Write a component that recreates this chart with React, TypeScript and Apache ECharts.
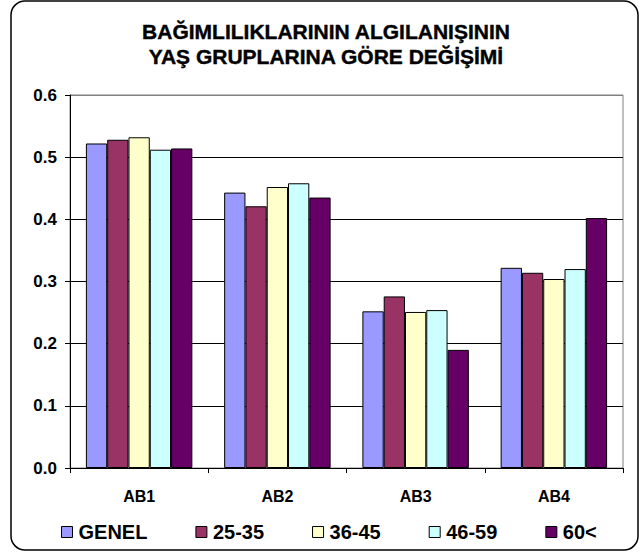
import React, { useEffect, useRef } from "react";
import * as echarts from "echarts";

const categories = ["AB1", "AB2", "AB3", "AB4"];
const seriesNames = ["GENEL", "25-35", "36-45", "46-59", "60<"];
const genel = [0.522, 0.443, 0.252, 0.322];
const g2535 = [0.528, 0.421, 0.276, 0.314];
const g3645 = [0.532, 0.452, 0.251, 0.304];
const g4659 = [0.512, 0.458, 0.254, 0.320];
const g60 = [0.514, 0.435, 0.190, 0.402];
const seriesValues = [genel, g2535, g3645, g4659, g60];
const colors = ["#9999FF", "#993366", "#FFFFCC", "#CCFFFF", "#660066"];
const titleLines = ["BAĞIMLILIKLARININ ALGILANIŞININ", "YAŞ GRUPLARINA GÖRE DEĞİŞİMİ"];

const FONT = "'Liberation Sans', Arial, sans-serif";

export default function App() {
  const ref = useRef<HTMLDivElement>(null);
  useEffect(() => {
    if (!ref.current) return;
    const chart = echarts.init(ref.current, null, { renderer: "svg" });
    chart.setOption({
      animation: false,
      backgroundColor: "#ffffff",
      graphic: [
        {
          type: "rect",
          z: -10,
          shape: { x: 11, y: 1, width: 627, height: 549, r: 14 },
          style: { fill: "none", stroke: "#000", lineWidth: 1.5 },
        },
        {
          type: "text",
          x: 326,
          y: 31,
          style: {
            text: titleLines[0],
            font: `bold 21px ${FONT}`,
            fill: "#000",
            stroke: "#000",
            lineWidth: 0.4,
            textAlign: "center",
            textVerticalAlign: "middle",
          },
        },
        {
          type: "text",
          x: 326,
          y: 56,
          style: {
            text: titleLines[1],
            font: `bold 21px ${FONT}`,
            fill: "#000",
            stroke: "#000",
            lineWidth: 0.4,
            textAlign: "center",
            textVerticalAlign: "middle",
          },
        },
      ],
      grid: { left: 70, right: 17, top: 95, bottom: 90, show: true, borderColor: "#808080", borderWidth: 1 },
      legend: {
        data: seriesNames,
        left: 56,
        top: 517,
        itemWidth: 11,
        itemHeight: 11,
        itemGap: 48,
        icon: "rect",
        itemStyle: { borderColor: "#000", borderWidth: 1 },
        textStyle: { fontSize: 20, fontWeight: "bold", fontFamily: FONT, color: "#000", padding: [0, 0, 0, 1] },
      },
      xAxis: {
        type: "category",
        data: categories,
        axisLine: { lineStyle: { color: "#000", width: 1 } },
        axisTick: { show: true, length: 5, lineStyle: { color: "#000" } },
        axisLabel: { fontSize: 16, fontWeight: "bold", fontFamily: FONT, color: "#000", margin: 20 },
        splitLine: { show: false },
      },
      yAxis: {
        type: "value",
        min: 0,
        max: 0.6,
        interval: 0.1,
        axisLine: { show: true, lineStyle: { color: "#000", width: 1 } },
        axisTick: { show: true, length: 5, lineStyle: { color: "#000" } },
        axisLabel: {
          fontSize: 17,
          fontWeight: "bold",
          fontFamily: FONT,
          color: "#000",
          margin: 13,
          formatter: (v: number) => v.toFixed(1),
        },
        splitLine: {
          show: true,
          lineStyle: { color: ["#000", "#000", "#000", "#000", "#000", "#000", "#808080"], width: 1 },
        },
      },
      series: seriesNames.map((name, i) => ({
        name,
        type: "bar",
        data: seriesValues[i],
        barGap: "0%",
        barCategoryGap: "23%",
        itemStyle: { color: colors[i], borderColor: "#000", borderWidth: 1 },
      })),
    });
    return () => chart.dispose();
  }, []);
  return (
    <div
      ref={ref}
      style={{ position: "fixed", left: 0, top: 0, width: 640, height: 558, background: "#fff" }}
    />
  );
}
